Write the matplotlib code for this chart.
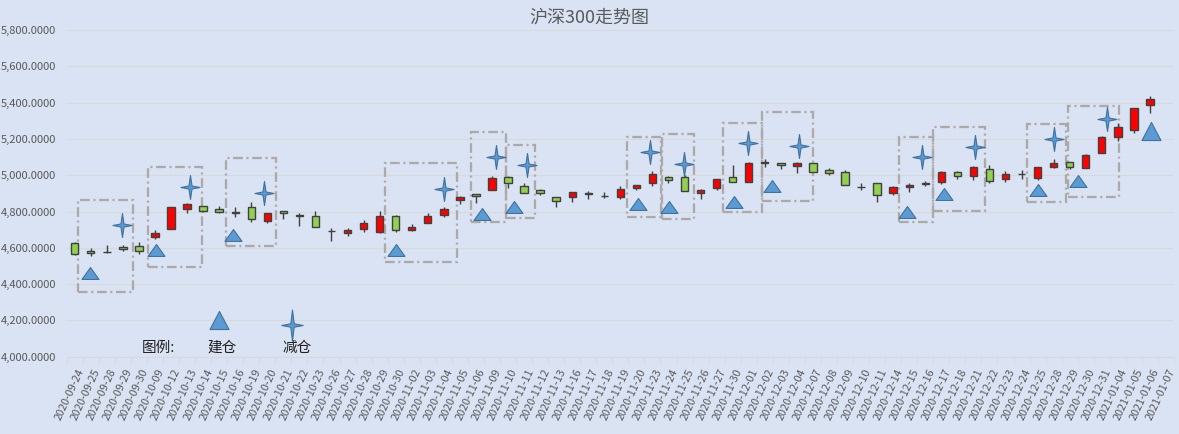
import numpy as np
import matplotlib
matplotlib.use('Agg')
import matplotlib.pyplot as plt
from matplotlib.path import Path
from matplotlib.patches import Rectangle
from matplotlib.ticker import FuncFormatter
from matplotlib.transforms import ScaledTranslation

# ---------------- data ----------------
dates = ['2020-09-24', '2020-09-25', '2020-09-28', '2020-09-29', '2020-09-30',
         '2020-10-09', '2020-10-12', '2020-10-13', '2020-10-14', '2020-10-15',
         '2020-10-16', '2020-10-19', '2020-10-20', '2020-10-21', '2020-10-22',
         '2020-10-23', '2020-10-26', '2020-10-27', '2020-10-28', '2020-10-29',
         '2020-10-30', '2020-11-02', '2020-11-03', '2020-11-04', '2020-11-05',
         '2020-11-06', '2020-11-09', '2020-11-10', '2020-11-11', '2020-11-12',
         '2020-11-13', '2020-11-16', '2020-11-17', '2020-11-18', '2020-11-19',
         '2020-11-20', '2020-11-23', '2020-11-24', '2020-11-25', '2020-11-26',
         '2020-11-27', '2020-11-30', '2020-12-01', '2020-12-02', '2020-12-03',
         '2020-12-04', '2020-12-07', '2020-12-08', '2020-12-09', '2020-12-10',
         '2020-12-11', '2020-12-14', '2020-12-15', '2020-12-16', '2020-12-17',
         '2020-12-18', '2020-12-21', '2020-12-22', '2020-12-23', '2020-12-24',
         '2020-12-25', '2020-12-28', '2020-12-29', '2020-12-30', '2020-12-31',
         '2021-01-04', '2021-01-05', '2021-01-06', '2021-01-07']

opens = [4625, 4581, 4576, 4607, 4608, 4661, 4702, 4812, 4828, 4812,
         4794, 4823, 4750, 4803, 4778, 4773, 4692, 4680, 4702, 4685,
         4773, 4700, 4738, 4779, 4861, 4895, 4917, 4992, 4939, 4917,
         4882, 4878, 4899, 4888, 4878, 4930, 4955, 4992, 4992, 4904,
         4928, 4992, 4961, 5068, 5066, 5051, 5066, 5027, 5020, 4937,
         4957, 4900, 4933, 4954, 4961, 5016, 4994, 5032, 4977, 5004,
         4983, 5043, 5071, 5038, 5121, 5212, 5249, 5385, np.nan]
highs = [4630, 4597, 4614, 4616, 4634, 4696, 4823, 4848, 4832, 4832,
         4823, 4852, 4790, 4803, 4790, 4805, 4711, 4707, 4753, 4803,
         4781, 4733, 4790, 4825, 4885, 4895, 4998, 4996, 4955, 4926,
         4882, 4906, 4913, 4908, 4939, 4944, 5025, 4996, 5001, 4922,
         4977, 5056, 5071, 5088, 5069, 5071, 5066, 5042, 5029, 4959,
         4957, 4940, 4955, 4968, 5021, 5025, 5051, 5056, 5023, 5029,
         5043, 5088, 5075, 5117, 5214, 5286, 5369, 5437, np.nan]
lows = [4562, 4555, 4569, 4583, 4564, 4651, 4702, 4794, 4799, 4793,
        4768, 4744, 4738, 4757, 4722, 4716, 4639, 4667, 4685, 4680,
        4685, 4694, 4735, 4768, 4841, 4845, 4917, 4928, 4900, 4891,
        4823, 4852, 4869, 4872, 4869, 4920, 4939, 4959, 4911, 4867,
        4918, 4961, 4961, 5047, 5032, 5014, 5020, 5001, 4944, 4918,
        4850, 4889, 4906, 4940, 4952, 4977, 4972, 4959, 4964, 4979,
        4972, 5038, 5032, 5038, 5121, 5190, 5231, 5341, np.nan]
closes = [4564, 4570, 4578, 4591, 4584, 4682, 4823, 4840, 4805, 4795,
          4796, 4757, 4790, 4790, 4775, 4716, 4690, 4698, 4735, 4773,
          4696, 4716, 4777, 4812, 4882, 4884, 4983, 4955, 4904, 4904,
          4856, 4906, 4901, 4886, 4926, 4944, 5007, 4972, 4911, 4917,
          4977, 4961, 5066, 5070, 5054, 5067, 5020, 5010, 4944, 4936,
          4889, 4933, 4944, 4956, 5016, 4998, 5043, 4966, 5005, 5005,
          5043, 5066, 5043, 5113, 5211, 5268, 5369, 5420, np.nan]

# 建仓 (build position) marks: category position, value
build_x = [0.98, 5.06, 9.86, 20.0, 25.39, 27.37, 35.08, 37.05, 41.06, 43.46,
           51.87, 54.16, 60.04, 62.5, 67.04]
build_y = [4463, 4590, 4671, 4588, 4786, 4826, 4841, 4823, 4851, 4941,
           4797, 4895, 4919, 4968, 5246]
# 减仓 (reduce position) marks
reduce_x = [2.96, 7.18, 11.79, 23.01, 26.23, 28.16, 35.84, 37.98, 41.97, 45.14,
            52.79, 56.1, 61.01, 64.3]
reduce_y = [4726, 4933, 4904, 4924, 5099, 5056, 5128, 5062, 5179, 5163,
            5099, 5157, 5200, 5310]

# highlighted windows (category start/end, value top/bottom)
win_x0 = [0.22, 4.55, 9.43, 19.33, 24.67, 26.87, 34.43, 36.57, 40.37, 42.84,
          51.38, 53.47, 59.31, 61.87]
win_x1 = [3.61, 7.91, 12.54, 23.84, 26.87, 28.70, 36.51, 38.60, 42.84, 46.02,
          53.49, 56.71, 61.74, 65.05]
win_top = [4863, 5047, 5097, 5069, 5240, 5167, 5209, 5227, 5289, 5350,
           5212, 5264, 5281, 5383]
win_bottom = [4355, 4496, 4610, 4524, 4744, 4763, 4772, 4757, 4799, 4860,
              4744, 4803, 4851, 4878]

legend_title = '图例:'
legend_labels = ['建仓', '减仓']
legend_mark_x = [8.99, 13.52]
legend_mark_y = [4200, 4175]
legend_text_x = [5.19, 9.18, 13.86]
legend_text_y = 4048

title = '沪深300走势图'

# ---------------- style ----------------
plt.rcParams['font.family'] = ['Noto Sans CJK SC', 'DejaVu Sans']
BG = '#DAE3F3'
GRID = '#D9D9D9'
TXT = '#595959'
BLUE = '#5B9BD5'
BLUE_EDGE = '#41719C'
PX2PT = 0.72

W, H = 1179, 434
fig = plt.figure(figsize=(W / 100, H / 100), dpi=100, facecolor=BG)
L, R, B, T = 66.7, 1174.0, 356.7, 30.0
ax = fig.add_axes([L / W, 1 - B / H, (R - L) / W, (B - T) / H])
ax.set_facecolor(BG)


def tri_path(ratio):
    return Path([(-1, -ratio), (1, -ratio), (0, ratio), (-1, -ratio)],
                [Path.MOVETO, Path.LINETO, Path.LINETO, Path.CLOSEPOLY])


def star_path(ratio, a=0.16):
    v = [(0, ratio), (a, a), (1, 0), (a, -a), (0, -ratio), (-a, -a),
         (-1, 0), (-a, a), (0, ratio)]
    codes = [Path.MOVETO] + [Path.LINETO] * 7 + [Path.CLOSEPOLY]
    return Path(v, codes)


x = np.arange(len(dates))
o = np.array(opens, float)
h = np.array(highs, float)
lo = np.array(lows, float)
c = np.array(closes, float)
valid = ~np.isnan(o)
xi = x[valid]
o, h, lo, c = o[valid], h[valid], lo[valid], c[valid]
cols = np.where(c >= o, '#FF0000', '#92D050')

ax.vlines(xi, lo, h, color='#404040', lw=1.0, zorder=3)
ax.bar(xi, np.abs(c - o), bottom=np.minimum(o, c), width=0.46, color=cols,
       edgecolor='#404040', linewidth=1.0, zorder=4)

for x0, x1, tp, bt in zip(win_x0, win_x1, win_top, win_bottom):
    ax.add_patch(Rectangle((x0, bt), x1 - x0, tp - bt, fill=False,
                           ec='#ADA9A9', lw=1.65,
                           ls=(0, (4.2, 1.6, 0.9, 1.6)), zorder=2))

# build markers (last one drawn larger, as in the source)
tri_small = tri_path(0.7)
tri_big = tri_path(0.95)
ax.plot(build_x[:-1], build_y[:-1], ls='none', marker=tri_small,
        ms=17 * PX2PT, mfc=BLUE, mec=BLUE_EDGE, mew=0.8, zorder=6)
ax.plot(build_x[-1:], build_y[-1:], ls='none', marker=tri_big,
        ms=19 * PX2PT, mfc=BLUE, mec=BLUE_EDGE, mew=0.8, zorder=6)

star_small = star_path(1.26)
star_big = star_path(1.45)
ax.plot(reduce_x, reduce_y, ls='none', marker=star_small, ms=24 * PX2PT,
        mfc=BLUE, mec=BLUE_EDGE, mew=0.8, zorder=6)

# legend drawn inside the plot
ax.plot(legend_mark_x[:1], legend_mark_y[:1], ls='none', marker=tri_big,
        ms=19 * PX2PT, mfc=BLUE, mec=BLUE_EDGE, mew=0.8, zorder=6)
ax.plot(legend_mark_x[1:], legend_mark_y[1:], ls='none', marker=star_big,
        ms=31 * PX2PT, mfc=BLUE, mec=BLUE_EDGE, mew=0.8, zorder=6)
for tx, s in zip(legend_text_x, [legend_title] + legend_labels):
    ax.text(tx, legend_text_y, s, ha='center', va='center', fontsize=10.5,
            color='#1F1F1F', zorder=7)

# axes
ax.set_xlim(-0.5, len(dates) - 0.5)
ax.set_ylim(4000, 5800)
ax.set_yticks(np.arange(4000, 5801, 200))
ax.yaxis.set_major_formatter(FuncFormatter(lambda v, p: f'{v:,.4f}'))
ax.yaxis.grid(True, color=GRID, lw=0.8)
ax.set_axisbelow(True)
ax.tick_params(axis='y', length=0, pad=7.5, labelsize=8, labelcolor=TXT)

ax.set_xticks(x)
ax.set_xticklabels(dates, rotation=65, ha='right', va='top',
                   rotation_mode='anchor')
ax.set_xticks(np.arange(-0.5, len(dates)), minor=True)
ax.tick_params(axis='x', which='major', length=0, pad=7.5, labelsize=7.8,
               labelcolor=TXT)
ax.tick_params(axis='x', which='minor', length=4, color=GRID, width=0.8)
shift = ScaledTranslation(2.2 / 100, 0, fig.dpi_scale_trans)
for lab in ax.get_xticklabels():
    lab.set_transform(lab.get_transform() + shift)

for sp in ['top', 'right', 'left']:
    ax.spines[sp].set_visible(False)
ax.spines['bottom'].set_color(GRID)
ax.spines['bottom'].set_linewidth(0.8)

fig.text(0.5, 1 - 17.5 / H, title, ha='center', va='center', fontsize=13,
         color=TXT)

fig.savefig('out.png', dpi=100, facecolor=BG)
